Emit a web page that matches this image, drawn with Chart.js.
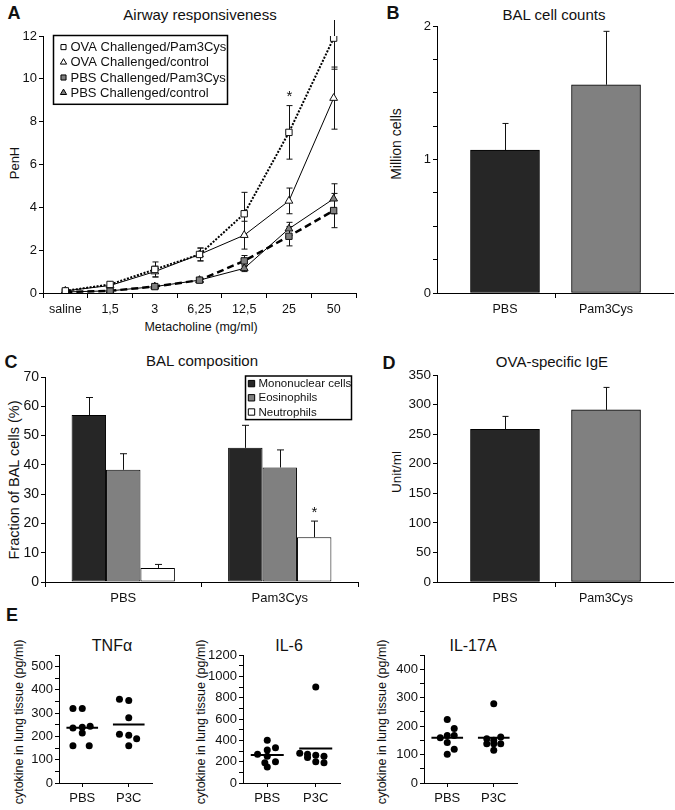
<!DOCTYPE html>
<html>
<head>
<meta charset="utf-8">
<title>Pam3Cys airway figure</title>
<script src="https://cdn.jsdelivr.net/npm/chart.js@4.4.0/dist/chart.umd.min.js"></script>
<style>
  html, body { margin: 0; padding: 0; background: #fff; }
  #fig { position: relative; width: 675px; height: 810px; overflow: hidden;
         font-family: "Liberation Sans", Arial, Helvetica, sans-serif; color: #111; }
  #fig canvas { position: absolute; }
  .txt { position: absolute; white-space: nowrap; line-height: 1; transform: translate(-50%, -50%); }
  .rot { transform: translate(-50%, -50%) rotate(-90deg); }
  .letter { font-weight: bold; font-size: 18px; }
</style>
</head>
<body>
<div id="fig">
  <div class="txt letter" style="left:14px;top:13px">A</div>
  <div class="txt" style="left:200px;top:14px;font-size:15px">Airway responsiveness</div>
  <div class="txt rot" style="left:14px;top:163px;font-size:13px">PenH</div>
  <div class="txt" style="left:201px;top:327px;font-size:12.5px">Metacholine (mg/ml)</div>

  <div class="txt letter" style="left:393px;top:13px">B</div>
  <div class="txt" style="left:554px;top:14px;font-size:15px">BAL cell counts</div>
  <div class="txt rot" style="left:396px;top:144px;font-size:14px">Million cells</div>

  <div class="txt letter" style="left:11px;top:362px">C</div>
  <div class="txt" style="left:202px;top:360px;font-size:15px">BAL composition</div>
  <div class="txt rot" style="left:14px;top:480px;font-size:14.5px">Fraction of BAL cells (%)</div>

  <div class="txt letter" style="left:389px;top:363px">D</div>
  <div class="txt" style="left:552px;top:361px;font-size:15px">OVA-specific IgE</div>
  <div class="txt rot" style="left:397px;top:472px;font-size:13.5px">Unit/ml</div>

  <div class="txt letter" style="left:12px;top:615px">E</div>
  <div class="txt" style="left:112px;top:646px;font-size:16px">TNFα</div>
  <div class="txt" style="left:289px;top:646px;font-size:16px">IL-6</div>
  <div class="txt" style="left:473px;top:646px;font-size:16px">IL-17A</div>
  <div class="txt rot" style="left:19px;top:722px;font-size:12.5px">cytokine in lung tissue (pg/ml)</div>
  <div class="txt rot" style="left:201px;top:722px;font-size:12.5px">cytokine in lung tissue (pg/ml)</div>
  <div class="txt rot" style="left:382px;top:722px;font-size:12.5px">cytokine in lung tissue (pg/ml)</div>
</div>

<script>
// ---- A: airway responsiveness (PenH per metacholine dose) ----
const doses = ['saline', '1,5', '3', '6,25', '12,5', '25', '50'];
const ovaPam = [0.1, 0.4, 1.1, 1.8, 3.7, 7.5, 11.9];
const ovaPamErr = [0.05, 0.05, 0.35, 0.3, 1.0, 1.25, 1.45];
const ovaPamStars = [5];
const ovaCtl = [0.1, 0.35, 1.0, 1.8, 2.7, 4.3, 9.1];
const ovaCtlErr = [0.05, 0.05, 0.25, 0.3, 0.65, 0.6, 1.45];
const pbsPam = [0.05, 0.1, 0.3, 0.6, 1.5, 2.65, 3.85];
const pbsPamErr = [0.02, 0.03, 0.05, 0.08, 0.25, 0.45, 0.8];
const pbsCtl = [0.05, 0.1, 0.3, 0.6, 1.15, 3.0, 4.4];
const pbsCtlErr = [0.02, 0.03, 0.05, 0.08, 0.15, 0.3, 0.7];

// ---- B: BAL cell counts (million cells) ----
const groups = ['PBS', 'Pam3Cys'];
const balCells = [1.07, 1.56];
const balCellsErr = [0.2, 0.4];

// ---- C: BAL composition (% of cells) ----
const mono = [57, 45.8];
const monoErr = [6, 7.7];
const eos = [38.3, 39.1];
const eosErr = [5.5, 6];
const neut = [4.8, 15.3];
const neutErr = [1.2, 5.5];
const neutStars = [1];

// ---- D: OVA-specific IgE (Unit/ml) ----
const ige = [258, 291];
const igeErr = [22, 38];

// ---- E: cytokines in lung tissue (pg/ml), jitter in group units ----
const groupsE = ['PBS', 'P3C'];
const tnfPbs = [320, 320, 236, 240, 244, 215, 160, 160];
const tnfPbsJit = [-0.2, 0, -0.2, 0, 0.17, 0, -0.2, 0.15];
const tnfP3c = [360, 355, 280, 210, 205, 190, 160];
const tnfP3cJit = [-0.2, 0, 0, -0.2, 0, 0.17, 0];
const il6Pbs = [400, 330, 310, 270, 250, 200, 190, 150];
const il6PbsJit = [0, 0.17, 0, -0.2, 0, 0.17, -0.05, 0];
const il6P3c = [900, 280, 270, 260, 250, 240, 200, 190];
const il6P3cJit = [0, -0.33, -0.17, 0, 0.17, -0.17, 0, 0.17];
const il17Pbs = [223, 192, 167, 167, 159, 142, 119, 101];
const il17PbsJit = [0, 0.15, 0, 0.15, -0.15, 0, 0.15, 0];
const il17P3c = [279, 162, 156, 150, 138, 138, 138, 115];
const il17P3cJit = [0, 0.15, -0.15, 0, -0.15, 0, 0.15, 0];

const FONT = '"Liberation Sans", Arial, Helvetica, sans-serif';
Chart.defaults.font.family = FONT;
Chart.defaults.color = '#111';
Chart.defaults.animation = false;
Chart.defaults.plugins.legend.display = false;
Chart.defaults.plugins.tooltip.enabled = false;

const fig = document.getElementById('fig');

function canvasAt(box) {
  const c = document.createElement('canvas');
  c.width = box.w;
  c.height = box.h;
  Object.assign(c.style, { left: box.x + 'px', top: box.y + 'px', width: box.w + 'px', height: box.h + 'px' });
  fig.appendChild(c);
  return c;
}

// fixes the plot area of a canvas at an absolute rectangle of the figure
function frame(box, area) {
  return {
    layout: { padding: { top: area.t - box.y, right: box.x + box.w - area.r, bottom: 0, left: 0 } },
    yW: area.l - box.x,
    xH: box.y + box.h - area.b,
  };
}

function yScale(fr, min, max, step, size, cb) {
  return {
    min, max,
    ticks: { stepSize: step, autoSkip: false, maxTicksLimit: 100, padding: 2, color: '#111',
             font: { size }, callback: cb || (v => v) },
    grid: { drawOnChartArea: false, drawTicks: true, tickLength: 4, color: '#000', lineWidth: 1 },
    border: { display: true, color: '#000', width: 1 },
    afterFit: s => { s.width = fr.yW; },
  };
}

function xCat(fr, size) {
  return {
    type: 'category', offset: true,
    ticks: { autoSkip: false, maxRotation: 0, padding: 4, color: '#111', font: { size } },
    grid: { offset: true, drawOnChartArea: false, drawTicks: true, tickLength: 5, color: '#000' },
    border: { display: true, color: '#000', width: 1 },
    afterFit: s => { s.height = fr.xH; },
  };
}

// error bars (both ways for lines, upward only for bars) and significance stars
function drawErrors(chart) {
  const ctx = chart.ctx;
  chart.data.datasets.forEach((ds, di) => {
    if (!ds.errors) return;
    const meta = chart.getDatasetMeta(di);
    const ys = chart.scales[meta.yAxisID];
    const cap = ds.capWidth || 6;
    ctx.save();
    ctx.strokeStyle = '#111';
    ctx.lineWidth = 1;
    meta.data.forEach((el, i) => {
      const raw = ds.data[i];
      const v = typeof raw === 'object' ? raw.y : raw;
      const e = ds.errors[i];
      const x = Math.round(el.x) + 0.5;
      const top = ys.getPixelForValue(v + e);
      const bot = ds.upOnly ? ys.getPixelForValue(v) : ys.getPixelForValue(v - e);
      ctx.beginPath();
      ctx.moveTo(x, top); ctx.lineTo(x, bot);
      ctx.moveTo(x - cap / 2, top); ctx.lineTo(x + cap / 2, top);
      if (!ds.upOnly) { ctx.moveTo(x - cap / 2, bot); ctx.lineTo(x + cap / 2, bot); }
      ctx.stroke();
      if (ds.stars && ds.stars.includes(i)) {
        ctx.fillStyle = '#111';
        ctx.font = '15px ' + FONT;
        ctx.textAlign = 'center';
        ctx.textBaseline = 'bottom';
        ctx.fillText('*', x, top - 1);
      }
    });
    ctx.restore();
  });
}

const errorBars = {
  id: 'errorBars',
  beforeDatasetsDraw(chart) { if (chart.config.type === 'line') drawErrors(chart); },
  afterDatasetsDraw(chart) { if (chart.config.type === 'bar') drawErrors(chart); },
};

// boxed legend drawn inside the plot
const insetLegend = {
  id: 'insetLegend',
  afterDraw(chart, args, o) {
    if (!o || !o.width) return;
    const ctx = chart.ctx;
    const sets = chart.data.datasets.filter(d => d.label);
    const h = o.padY * 2 + o.rowH * sets.length;
    ctx.save();
    ctx.fillStyle = '#fff';
    ctx.fillRect(o.left, o.top, o.width, h);
    ctx.lineWidth = o.lineWidth;
    ctx.strokeStyle = '#000';
    ctx.strokeRect(o.left, o.top, o.width, h);
    ctx.font = o.fontSize + 'px ' + FONT;
    ctx.textBaseline = 'middle';
    ctx.textAlign = 'left';
    sets.forEach((d, i) => {
      const cy = o.top + o.padY + o.rowH * (i + 0.5);
      ctx.fillStyle = d.pointBackgroundColor || d.backgroundColor;
      ctx.strokeStyle = '#000';
      ctx.lineWidth = 1;
      Chart.helpers.drawPoint(ctx, { pointStyle: d.pointStyle || 'rect', radius: o.marker, borderWidth: 1, rotation: 0 },
        o.left + o.markerX, cy);
      ctx.fillStyle = '#111';
      ctx.fillText(d.label, o.left + o.textX, cy + 0.5);
    });
    ctx.restore();
  }
};

Chart.register(errorBars, insetLegend);

// ---------- A ----------
function penhSeries(label, values, errs, look) {
  return Object.assign({
    label, data: values, errors: errs,
    borderColor: '#000', pointBorderColor: '#111', pointBorderWidth: 1,
    pointRadius: 4.5, tension: 0, fill: false, capWidth: 6,
  }, look);
}

const boxA = { x: 0, y: 20, w: 362, h: 300 };
const frA = frame(boxA, { l: 43, t: 36, r: 356, b: 293 });
new Chart(canvasAt(boxA), {
  type: 'line',
  data: {
    labels: doses,
    datasets: [
      penhSeries('OVA Challenged/Pam3Cys', ovaPam, ovaPamErr,
        { pointStyle: 'rect', pointBackgroundColor: '#fff', borderWidth: 2, borderDash: [2, 1.5], stars: ovaPamStars }),
      penhSeries('OVA Challenged/control', ovaCtl, ovaCtlErr,
        { pointStyle: 'triangle', pointBackgroundColor: '#fff', borderWidth: 1 }),
      penhSeries('PBS Challenged/Pam3Cys', pbsPam, pbsPamErr,
        { pointStyle: 'rect', pointBackgroundColor: '#7f7f7f', borderWidth: 2.5, borderDash: [7, 4] }),
      penhSeries('PBS Challenged/control', pbsCtl, pbsCtlErr,
        { pointStyle: 'triangle', pointBackgroundColor: '#7f7f7f', borderWidth: 1 }),
    ]
  },
  options: {
    responsive: false,
    layout: frA.layout,
    scales: { x: xCat(frA, 12.5), y: yScale(frA, 0, 12, 2, 13) },
    plugins: {
      insetLegend: { left: 53.5, top: 15.5, width: 174, rowH: 15.2, padY: 4, markerX: 10, textX: 17,
                     fontSize: 13, marker: 3.6, lineWidth: 1.5 }
    }
  }
});

// ---------- B and D (two bars on a group axis, bars sit right of the category middle) ----------
function twoBarChart(box, area, values, errs, yMin, yMax, step, ySize, cb) {
  const fr = frame(box, area);
  return new Chart(canvasAt(box), {
    type: 'bar',
    data: {
      datasets: [{
        data: values.map((v, i) => ({ x: i + 1, y: v })), errors: errs, upOnly: true, capWidth: 6,
        backgroundColor: ['#262626', '#808080'], borderColor: '#000', borderWidth: 1,
        borderSkipped: false, barThickness: 69,
      }]
    },
    options: {
      responsive: false,
      layout: fr.layout,
      scales: {
        x: {
          type: 'linear', min: 0.327, max: 2.663, offset: false,
          afterBuildTicks: s => { s.ticks = [{ value: 1 }, { value: 1.5 }, { value: 2 }]; },
          ticks: { autoSkip: false, maxRotation: 0, padding: 4, color: '#111', font: { size: 12.5 },
                   callback: v => (Number.isInteger(v) ? groups[v - 1] : '') },
          grid: { offset: false, drawOnChartArea: false, drawTicks: true, tickLength: 5,
                  tickColor: c => (c.tick && c.tick.value === 1.5 ? '#000' : 'rgba(0,0,0,0)') },
          border: { display: true, color: '#000', width: 1 },
          afterFit: s => { s.height = fr.xH; },
        },
        y: yScale(fr, yMin, yMax, step, ySize, cb),
      },
    }
  });
}

twoBarChart({ x: 400, y: 10, w: 275, h: 310 }, { l: 437, t: 26, r: 673, b: 293 },
  balCells, balCellsErr, 0, 2, 0.25, 13, v => (Number.isInteger(v) ? v : ''));

twoBarChart({ x: 400, y: 362, w: 275, h: 248 }, { l: 437, t: 375, r: 673, b: 582 },
  ige, igeErr, 0, 350, 50, 13.5);

// ---------- C ----------
const boxC = { x: 0, y: 365, w: 362, h: 245 };
const frC = frame(boxC, { l: 45, t: 377, r: 358, b: 582 });
function compSet(label, values, errs, color, extra) {
  return Object.assign({
    label, data: values, errors: errs, upOnly: true, capWidth: 7,
    backgroundColor: color, borderColor: '#000', borderWidth: 1, borderSkipped: false,
    barPercentage: 1, categoryPercentage: 0.66,
  }, extra);
}
new Chart(canvasAt(boxC), {
  type: 'bar',
  data: {
    labels: groups,
    datasets: [
      compSet('Mononuclear cells', mono, monoErr, '#262626'),
      compSet('Eosinophils', eos, eosErr, '#808080'),
      compSet('Neutrophils', neut, neutErr, '#ffffff', { stars: neutStars }),
    ]
  },
  options: {
    responsive: false,
    layout: frC.layout,
    scales: { x: xCat(frC, 13), y: yScale(frC, 0, 70, 10, 14) },
    plugins: {
      insetLegend: { left: 245.5, top: 11, width: 106, rowH: 14.2, padY: 0.5, markerX: 6, textX: 13,
                     fontSize: 11.5, marker: 4.5, lineWidth: 1.5 }
    }
  }
});

// ---------- E ----------
function meanOf(a) { return a.reduce((s, v) => s + v, 0) / a.length; }

function cytokineChart(box, area, pbs, pbsJit, p3c, p3cJit, yMax, step, labelStep) {
  const fr = frame(box, area);
  const dots = (vals, jit, g) => ({
    data: vals.map((v, i) => ({ x: g + jit[i], y: v })),
    pointRadius: 3.5, pointBackgroundColor: '#000', pointBorderWidth: 0, showLine: false,
  });
  const bar = (vals, g) => ({
    data: [{ x: g - 0.34, y: meanOf(vals) }, { x: g + 0.34, y: meanOf(vals) }],
    borderColor: '#000', borderWidth: 2, pointRadius: 0, showLine: true,
  });
  return new Chart(canvasAt(box), {
    type: 'scatter',
    data: { datasets: [dots(pbs, pbsJit, 1), dots(p3c, p3cJit, 2), bar(pbs, 1), bar(p3c, 2)] },
    options: {
      responsive: false,
      layout: fr.layout,
      scales: {
        x: {
          type: 'linear', min: 0.5, max: 2.5,
          afterBuildTicks: s => { s.ticks = [{ value: 1 }, { value: 2 }]; },
          ticks: { autoSkip: false, padding: 4, color: '#111', font: { size: 13 }, callback: v => groupsE[v - 1] },
          grid: { drawOnChartArea: false, drawTicks: true, tickLength: 4, color: '#000' },
          border: { display: true, color: '#000', width: 1 },
          afterFit: s => { s.height = fr.xH; },
        },
        y: yScale(fr, 0, yMax, step, 13, v => (v % labelStep === 0 ? v : '')),
      },
    }
  });
}

cytokineChart({ x: 20, y: 645, w: 140, h: 165 }, { l: 59, t: 655, r: 152, b: 783 },
  tnfPbs, tnfPbsJit, tnfP3c, tnfP3cJit, 550, 50, 100);
cytokineChart({ x: 200, y: 645, w: 150, h: 165 }, { l: 243, t: 655, r: 340, b: 783 },
  il6Pbs, il6PbsJit, il6P3c, il6P3cJit, 1200, 100, 200);
cytokineChart({ x: 385, y: 645, w: 140, h: 165 }, { l: 424, t: 655, r: 517, b: 783 },
  il17Pbs, il17PbsJit, il17P3c, il17P3cJit, 450, 50, 100);
</script>
</body>
</html>
